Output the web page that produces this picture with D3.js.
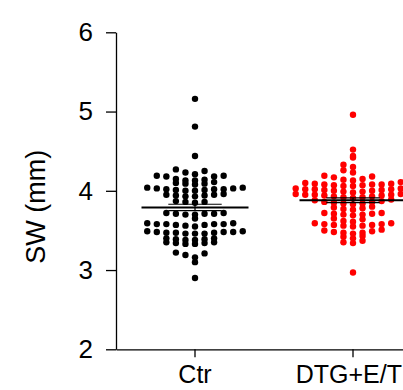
<!DOCTYPE html>
<html>
<head>
<meta charset="utf-8">
<script src="https://cdn.jsdelivr.net/npm/d3@7"></script>
<style>
  html, body { margin: 0; padding: 0; background: #fff; }
  svg { display: block; }
  text { font-family: Arial, "Liberation Sans", Helvetica, sans-serif; fill: #000; }
</style>
</head>
<body>
<svg id="chart" width="403" height="390"></svg>
<script>
const categories = ["Ctr", "DTG+E/T"];
const ctrValues = [
  5.16, 4.81, 4.44,
  4.27, 4.25, 4.23, 4.21,
  4.19, 4.19, 4.18, 4.18, 4.15, 4.14, 4.13, 4.13,
  4.11, 4.10, 4.09, 4.09, 4.08,
  4.04, 4.04, 4.03, 4.03, 4.02, 4.02, 4.02, 4.01, 4.01, 4.00, 4.00,
  3.96, 3.95, 3.95, 3.94, 3.94, 3.93, 3.93,
  3.87, 3.86, 3.86, 3.85,
  3.72, 3.72, 3.71, 3.71, 3.71, 3.70, 3.70,
  3.65,
  3.59, 3.59, 3.58, 3.58, 3.58, 3.58, 3.57, 3.57, 3.56, 3.55,
  3.49, 3.49, 3.48, 3.48, 3.48, 3.47, 3.47, 3.47, 3.46, 3.46, 3.46,
  3.40, 3.40, 3.39, 3.39, 3.38, 3.38,
  3.35, 3.35, 3.34, 3.34, 3.33, 3.33,
  3.22, 3.21, 3.19, 3.16,
  3.10,
  2.90
];
const dtgValues = [
  4.96, 4.52,
  4.44, 4.42,
  4.33, 4.30,
  4.26, 4.23,
  4.19, 4.18, 4.17, 4.15, 4.14, 4.13,
  4.11, 4.10, 4.09, 4.09, 4.08, 4.08, 4.08, 4.07, 4.07, 4.06, 4.06,
  4.04, 4.03, 4.03, 4.02, 4.02, 4.02, 4.01, 4.01, 4.00, 4.00, 3.99, 3.99, 3.98,
  3.97, 3.96, 3.96, 3.95, 3.95, 3.95, 3.94, 3.94, 3.93, 3.93, 3.92, 3.92, 3.91,
  3.89, 3.88, 3.87, 3.86, 3.86, 3.85, 3.84, 3.84, 3.83,
  3.80, 3.79, 3.78, 3.77, 3.76,
  3.72, 3.72, 3.71, 3.71, 3.70, 3.70, 3.69,
  3.65, 3.64, 3.62, 3.61,
  3.59, 3.59, 3.58, 3.58, 3.57, 3.57, 3.56, 3.56, 3.55,
  3.51, 3.50, 3.49, 3.48, 3.47, 3.47, 3.46,
  3.43, 3.42, 3.40,
  3.37, 3.35, 3.34,
  2.97
];
const seriesValues = [ctrValues, dtgValues];
const means = [3.79, 3.88];
const sems = [0.04, 0.03];
const yTicks = [2, 3, 4, 5, 6];
const colors = ["#000000", "#ff0000"];

(function () {
const W = 403;
const svg = d3.select("#chart");
const leftX = 116, topY = 32.3, bottomY = 349.3, step = 158;

const y = d3.scaleLinear().domain([2, 6]).range([bottomY, topY]);
const x = d3.scaleBand().domain(categories).range([leftX, leftX + step * categories.length]).padding(0);

const r = 3.2, slot = 9.55, binW = 0.075;

function layout(vals) {
  const bins = d3.group(vals, v => Math.floor((6 - v) / binW + 1e-9));
  const out = [];
  for (const [, arr] of bins) {
    const s = arr.slice().sort((a, b) => a - b);
    s.forEach((v, i) => {
      const k = i === 0 ? 0 : (i % 2 === 1 ? -Math.ceil(i / 2) : Math.ceil(i / 2));
      out.push({ v, k });
    });
  }
  return out;
}

categories.forEach((cat, ci) => {
  const cx = x(cat) + x.bandwidth() / 2;
  svg.append("g").selectAll("circle")
    .data(layout(seriesValues[ci]))
    .join("circle")
    .attr("cx", d => cx + d.k * slot)
    .attr("cy", d => y(d.v))
    .attr("r", r)
    .attr("fill", colors[ci]);
});

categories.forEach((cat, ci) => {
  const cx = x(cat) + x.bandwidth() / 2;
  const g = svg.append("g").attr("stroke", "#000").attr("fill", "none");
  g.append("line").attr("x1", cx - 53.5).attr("x2", cx + 53.5)
    .attr("y1", y(means[ci])).attr("y2", y(means[ci])).attr("stroke-width", 2);
  g.append("line").attr("x1", cx).attr("x2", cx)
    .attr("y1", y(means[ci] + sems[ci])).attr("y2", y(means[ci] - sems[ci])).attr("stroke-width", 1.2);
  [1, -1].forEach(sg => {
    g.append("line").attr("x1", cx - 26.7).attr("x2", cx + 26.7)
      .attr("y1", y(means[ci] + sg * sems[ci])).attr("y2", y(means[ci] + sg * sems[ci]))
      .attr("stroke-width", 1.2);
  });
});

const yAxis = svg.append("g").attr("transform", `translate(${leftX},0)`)
  .call(d3.axisLeft(y).tickValues(yTicks).tickFormat(d3.format("d")).tickSize(10).tickSizeOuter(0).tickPadding(13));
const xAxis = svg.append("g").attr("transform", `translate(0,${bottomY})`)
  .call(d3.axisBottom(x).tickSize(8).tickSizeOuter(0).tickPadding(8));

[yAxis, xAxis].forEach(a => {
  a.selectAll("path, line").attr("stroke", "#000").attr("stroke-width", 1.3);
  a.selectAll("text").attr("fill", "#000").style("font-family", "Arial, 'Liberation Sans', sans-serif");
});
yAxis.selectAll("text").attr("font-size", 26);
xAxis.selectAll("text").attr("font-size", 25);

// keep the last category label inside the picture
xAxis.selectAll(".tick").each(function () {
  const t = d3.select(this).select("text");
  const m = this.getCTM ? this.getCTM() : null;
  const bb = t.node().getBBox();
  const tx = m ? m.e : 0;
  const rightEdge = tx + bb.x + bb.width;
  if (rightEdge > W - 1) t.attr("x", (W - 1) - rightEdge);
});

svg.append("text")
  .attr("transform", `translate(45,${(topY + bottomY) / 2 + 16}) rotate(-90)`)
  .attr("text-anchor", "middle")
  .attr("font-size", 27)
  .text("SW (mm)");
})();
</script>
</body>
</html>
